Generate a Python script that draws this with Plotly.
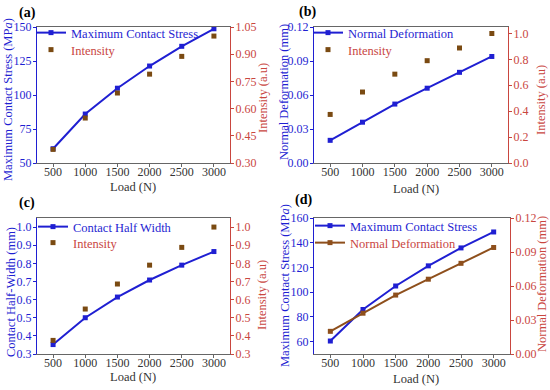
import plotly.graph_objects as go

load = [500, 1000, 1500, 2000, 2500, 3000]
max_stress = [60.5, 86.0, 105.0, 121.3, 135.8, 148.7]
intensity = [0.375, 0.548, 0.686, 0.790, 0.888, 1.0]
normal_def = [0.020, 0.036, 0.052, 0.066, 0.080, 0.094]
half_width = [0.352, 0.500, 0.614, 0.708, 0.790, 0.865]

BLUE = "#1f1fd2"
BROWN = "#7a4a12"
BROWN_LINE = "#8e4f1c"
RED = "#c9463f"
GREY = "#666666"
FONT = "Liberation Serif"

fig = go.Figure()

def red(s):
    return f'<span style="color:{RED}">{s}</span>'

def blue(s):
    return f'<span style="color:{BLUE}">{s}</span>'

def line_trace(y, name, color, xa, ya, leg):
    return go.Scatter(x=load, y=y, mode="lines+markers", name=name,
                      line=dict(color=color, width=2),
                      marker=dict(symbol="square", size=5, color=color),
                      xaxis=xa, yaxis=ya, legend=leg)

def dot_trace(y, name, xa, ya, leg):
    return go.Scatter(x=load, y=y, mode="markers", name=name,
                      marker=dict(symbol="square", size=5, color=BROWN),
                      xaxis=xa, yaxis=ya, legend=leg)

fig.add_trace(line_trace(max_stress, blue("Maximum Contact Stress"), BLUE, "x", "y", "legend"))
fig.add_trace(dot_trace(intensity, red("Intensity"), "x", "y2", "legend2"))
fig.add_trace(line_trace(normal_def, blue("Normal Deformation"), BLUE, "x2", "y3", "legend3"))
fig.add_trace(dot_trace(intensity, red("Intensity"), "x2", "y4", "legend4"))
fig.add_trace(line_trace(half_width, blue("Contact Half Width"), BLUE, "x3", "y5", "legend5"))
fig.add_trace(dot_trace(intensity, red("Intensity"), "x3", "y6", "legend6"))
fig.add_trace(line_trace(max_stress, blue("Maximum Contact Stress"), BLUE, "x4", "y7", "legend7"))
fig.add_trace(line_trace(normal_def, red("Normal Deformation"), BROWN_LINE, "x4", "y8", "legend8"))

W, H = 550, 390
def px(x0, x1):
    return [x0 / W, x1 / W]
def py(top, bot):
    return [1 - bot / H, 1 - top / H]

xpix = {1: (37, 230), 2: (314, 508), 3: (37, 230), 4: (314, 510)}
ypix = {1: (27, 163), 2: (27, 163), 3: (218, 354), 4: (218, 354)}

TICK = 12
lay = {}
for i in range(1, 5):
    xn = "xaxis" if i == 1 else f"xaxis{i}"
    lay[xn] = dict(domain=px(*xpix[i]), range=[250, 3250], tickvals=load, ticks="outside", ticklen=3,
                   showline=True, linecolor=GREY, mirror=True, showgrid=False, zeroline=False,
                   tickfont=dict(family=FONT, size=TICK, color="#333"), tickcolor=GREY,
                   ticklabelstandoff=-5,
                   automargin=False, anchor="y" if i == 1 else f"y{2*i-1}")

left = {
    1: dict(range=[50, 150], tickvals=[50, 75, 100, 125, 150], fmt=None, title="Maximum Contact Stress (MP<i>a</i>)"),
    2: dict(range=[0, 0.12], tickvals=[0, 0.03, 0.06, 0.09, 0.12], fmt=".2f", title="Normal Deformation (mm)"),
    3: dict(range=[0.3, 1.05], tickvals=[0.3, 0.4, 0.5, 0.6, 0.7, 0.8, 0.9, 1.0], fmt=".1f", title="Contact Half-Width (mm)"),
    4: dict(range=[50, 160], tickvals=[60, 80, 100, 120, 140, 160], fmt=None, title="Maximum Contact Stress (MP<i>a</i>)"),
}
right = {
    1: dict(range=[0.3, 1.05], tickvals=[0.3, 0.45, 0.6, 0.75, 0.9, 1.05], fmt=".2f", title="Intensity (a.u)"),
    2: dict(range=[0, 1.05], tickvals=[0, 0.2, 0.4, 0.6, 0.8, 1.0], fmt=".1f", title="Intensity (a.u)"),
    3: dict(range=[0.3, 1.05], tickvals=[0.3, 0.4, 0.5, 0.6, 0.7, 0.8, 0.9, 1.0], fmt=".1f", title="Intensity (a.u)"),
    4: dict(range=[0, 0.12], tickvals=[0, 0.03, 0.06, 0.09, 0.12], fmt=".2f", title="Normal Deformation (mm)"),
}

for i in range(1, 5):
    xa = "x" if i == 1 else f"x{i}"
    li, ri = 2 * i - 1, 2 * i
    ln = "yaxis" if li == 1 else f"yaxis{li}"
    rn = f"yaxis{ri}"
    L, R = left[i], right[i]
    lay[ln] = dict(domain=py(*ypix[i]), range=L["range"], tickvals=L["tickvals"], anchor=xa,
                   ticks="outside", ticklen=3, tickcolor=BLUE, showline=True, linecolor=BLUE,
                   showgrid=False, zeroline=False, automargin=False, ticklabelstandoff=-1,
                   tickfont=dict(family=FONT, size=TICK, color=BLUE))
    if L["fmt"]:
        lay[ln]["tickformat"] = L["fmt"]
    lay[rn] = dict(range=R["range"], tickvals=R["tickvals"], anchor=xa, overlaying="y" if li == 1 else f"y{li}",
                   side="right", ticks="outside", ticklen=3, tickcolor=RED, showline=True, linecolor=RED,
                   showgrid=False, zeroline=False, automargin=False, ticklabelstandoff=-1,
                   tickfont=dict(family=FONT, size=TICK, color=RED))
    if R["fmt"]:
        lay[rn]["tickformat"] = R["fmt"]

# one legend per entry: (left px, row centre px)
legpos = [(31, 33), (31, 50), (308, 33), (308, 50), (33, 227), (33, 243), (310, 226), (310, 243)]
for k, (x, y) in enumerate(legpos):
    nm = "legend" if k == 0 else f"legend{k+1}"
    lay[nm] = dict(x=x / W, y=1 - y / H, xanchor="left", yanchor="middle", bgcolor="rgba(0,0,0,0)",
                   font=dict(family=FONT, size=12.5), tracegroupgap=0, itemwidth=30)

fig.update_layout(**lay)
fig.update_layout(width=W, height=H, margin=dict(l=0, r=0, t=0, b=0, autoexpand=False),
                  paper_bgcolor="white", plot_bgcolor="white", showlegend=True)

def ann(text, x, y, color, size=14, angle=0, bold=False):
    t = f"<b>{text}</b>" if bold else text
    fig.add_annotation(text=t, x=x / W, y=1 - y / H, xref="paper", yref="paper", showarrow=False,
                       textangle=angle, xanchor="center", yanchor="middle",
                       font=dict(family=FONT, size=size, color=color))

# panel labels
for t, x, y in [("(a)", 27, 13), ("(b)", 307, 12), ("(c)", 27, 203), ("(d)", 303, 200)]:
    ann(t, x, y, "black", size=14, bold=True)

# x-axis titles
for x, y in [(133, 187), (416, 189), (133, 377), (416, 379)]:
    ann("Load (N)", x, y, "#333", size=12.5)

# left y titles
ann(left[1]["title"], 8, 100, BLUE, size=12.5, angle=-90)
ann(left[2]["title"], 284, 92, BLUE, size=12.5, angle=-90)
ann(left[3]["title"], 11, 292, BLUE, size=12.5, angle=-90)
ann(left[4]["title"], 285, 286, BLUE, size=12.5, angle=-90)
# right y titles
ann(right[1]["title"], 263, 98, RED, size=12.5, angle=-90)
ann(right[2]["title"], 541, 100, RED, size=12.5, angle=-90)
ann(right[3]["title"], 262, 295, RED, size=12.5, angle=-90)
ann(right[4]["title"], 542, 284, RED, size=12.5, angle=-90)

fig.write_html("out.html", config={"displayModeBar": False},
               post_script="document.body.style.margin='0px';document.body.style.overflow='hidden';")
